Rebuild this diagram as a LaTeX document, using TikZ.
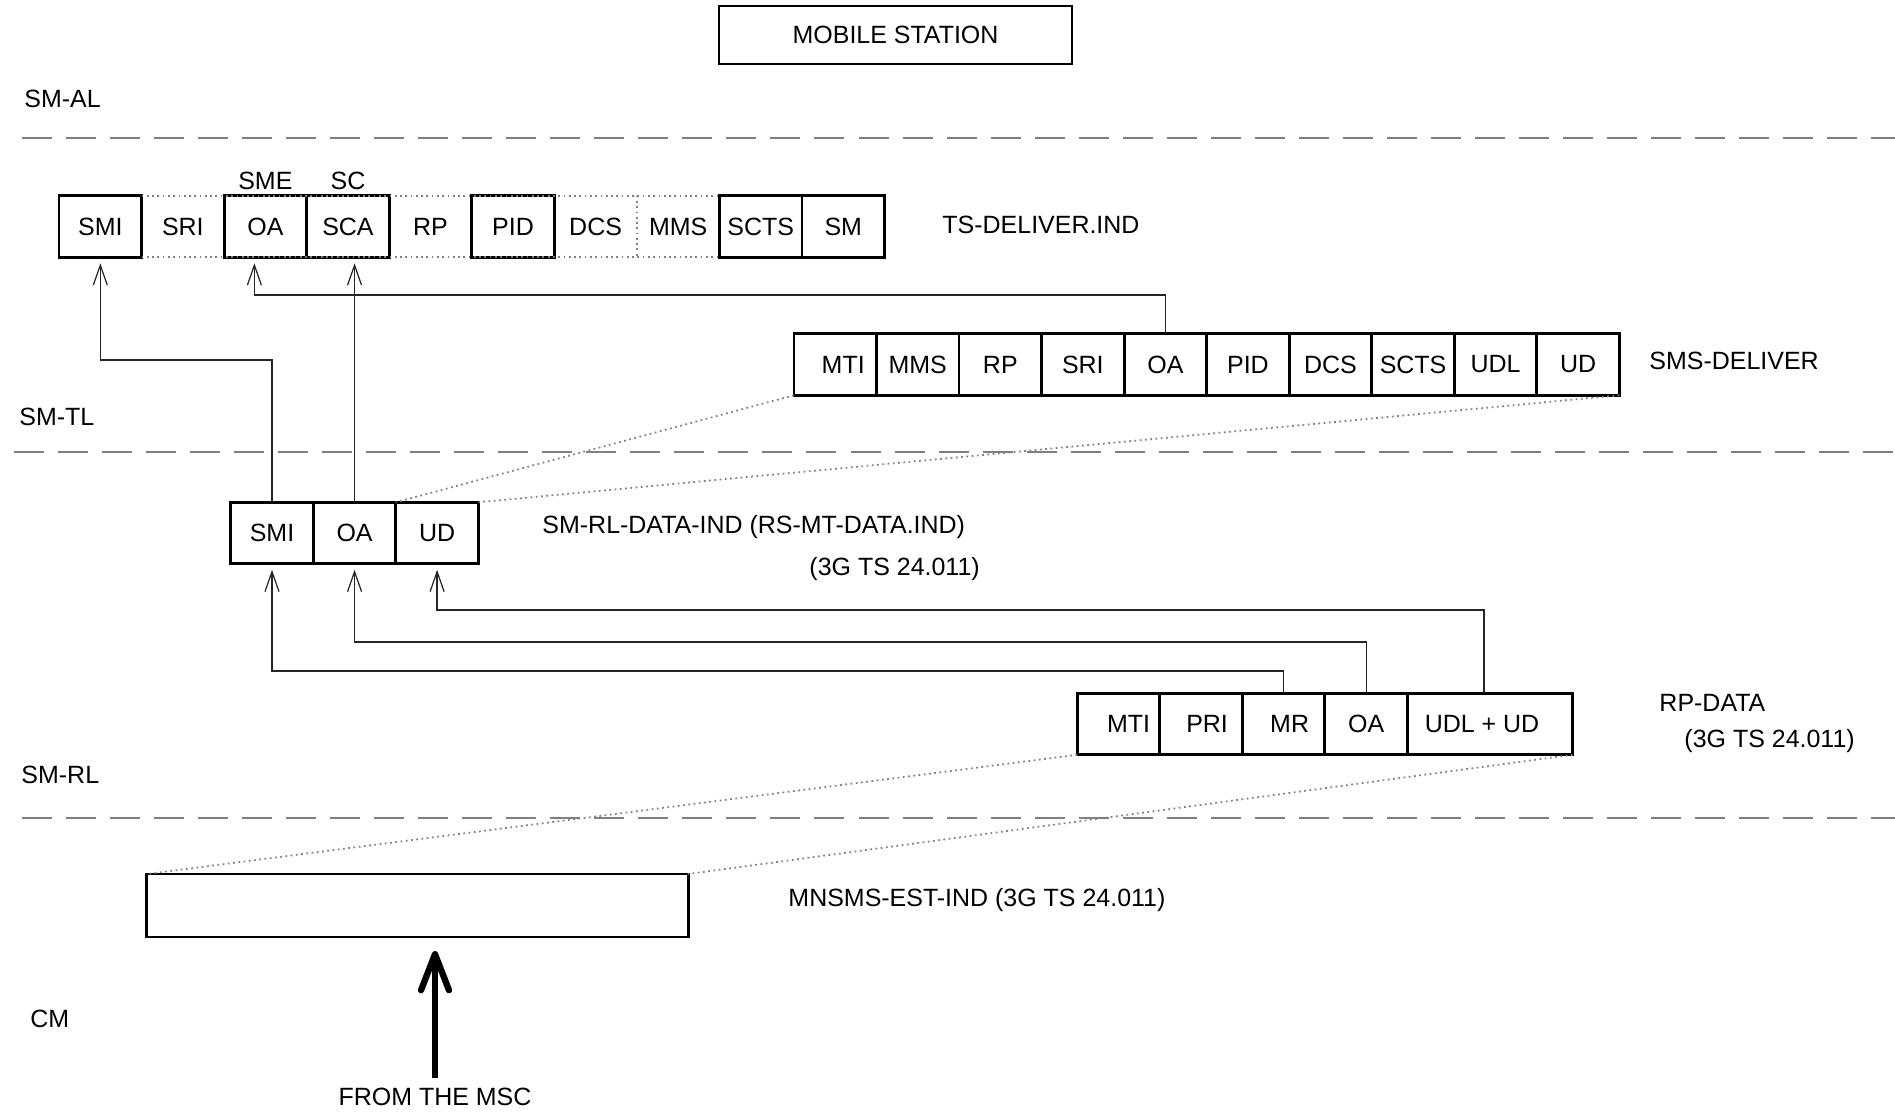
\documentclass[tikz,border=0pt]{standalone}
\usepackage{fontspec}
\setmainfont{Liberation Sans}
\usetikzlibrary{arrows.meta,positioning}

\begin{document}
\begin{tikzpicture}[x=0.01cm,y=-0.01cm,
  font=\fontsize{7.1}{8.5}\selectfont,
  >={Straight Barb[length=2mm,width=1.4mm]},
  cell/.style={draw,line width=0.8pt,minimum width=8.25mm,
    minimum height=6.15mm,inner sep=0.5pt,outer sep=0pt},
  gap/.style={cell,draw=none},
  layer/.style={gray,line width=0.6pt,dash pattern=on 3mm off 1.4mm},
  spread/.style={gray,densely dotted,line width=0.5pt},
  conn/.style={->,black!85,line width=0.35pt,shorten >=0.6mm},
  lbl/.style={inner sep=0.5pt}]
  \useasboundingbox (0,0) rectangle (1895,1112);

  \node[draw,line width=0.5pt,minimum width=35.3mm,minimum height=5.8mm]
    (ms) at (895.5,35) {MOBILE STATION};

  % layers
  \node[lbl,anchor=west] (al) at (22,99) {SM-AL};
  \node[lbl,anchor=west] (tl) at (17,417) {SM-TL};
  \node[lbl,anchor=west] (rl) at (19,775) {SM-RL};
  \node[lbl,anchor=west] (cm) at (28,1019) {CM};
  \coordinate (al0) at (22,138);  \coordinate (al1) at (1895,138);
  \coordinate (tl0) at (14,452);  \coordinate (tl1) at (1895,452);
  \coordinate (rl0) at (22,818);  \coordinate (rl1) at (1895,818);
  \draw[layer] (al0) -- (al1);
  \draw[layer] (tl0) -- (tl1);
  \draw[layer] (rl0) -- (rl1);

  % TS-DELIVER.IND
  \node[cell] (ts1) at (100.3,226.5) {SMI};
  \node[gap,right=0pt of ts1] (ts2) {SRI};
  \node[cell,right=0pt of ts2,text depth=-1.2pt] (ts3) {OA};
  \node[cell,right=0pt of ts3] (ts4) {SCA};
  \node[gap,right=0pt of ts4] (ts5) {RP};
  \node[cell,right=0pt of ts5] (ts6) {PID};
  \node[gap,right=0pt of ts6] (ts7) {DCS};
  \node[gap,right=0pt of ts7] (ts8) {MMS};
  \node[cell,right=0pt of ts8] (ts9) {SCTS};
  \node[cell,right=0pt of ts9] (ts10) {SM};
  \draw[spread] (ts1.north east) -- (ts9.north west)
    (ts1.south east) -- (ts9.south west)
    (ts7.north east) -- (ts7.south east);
  \node[lbl] (sme) at ([yshift=1.5mm]ts3.north) {SME};
  \node[lbl] (sc) at ([yshift=1.5mm]ts4.north) {SC};
  \node[lbl,anchor=west] (tsname) at (940,225) {TS-DELIVER.IND};

  % SMS-DELIVER
  \node[cell] (sms1) at (835.2,364.5) {\hspace*{1.6mm}MTI};
  \node[cell,right=0pt of sms1] (sms2) {MMS};
  \node[cell,right=0pt of sms2] (sms3) {RP};
  \node[cell,right=0pt of sms3] (sms4) {SRI};
  \node[cell,right=0pt of sms4] (sms5) {OA};
  \node[cell,right=0pt of sms5] (sms6) {PID};
  \node[cell,right=0pt of sms6] (sms7) {DCS};
  \node[cell,right=0pt of sms7] (sms8) {SCTS};
  \node[cell,right=0pt of sms8] (sms9) {UDL};
  \node[cell,right=0pt of sms9] (sms10) {UD};
  \node[lbl,anchor=west] (smsname) at (1647,361) {SMS-DELIVER};

  % SM-RL-DATA-IND
  \node[cell] (rl1) at (272,533) {SMI};
  \node[cell,right=0pt of rl1] (rl2) {OA};
  \node[cell,right=0pt of rl2] (rl3) {UD};
  \node[lbl,anchor=west] (rlname) at (540,527)
    {SM-RL-DATA-IND (RS-MT-DATA.IND)};
  \node[lbl,anchor=west] (rlref) at (807,569) {(3G TS 24.011)};

  % RP-DATA
  \node[cell] (rp1) at (1118.5,724) {\hspace*{2mm}MTI};
  \node[cell,right=0pt of rp1] (rp2) {\hspace*{1.2mm}PRI};
  \node[cell,right=0pt of rp2] (rp3) {\hspace*{1.2mm}MR};
  \node[cell,right=0pt of rp3] (rp4) {OA};
  \node[cell,right=0pt of rp4,minimum width=16.5mm] (rp5) {UDL + UD\hspace*{1.6mm}};
  \node[lbl,anchor=west] (rpname) at (1657,703) {RP-DATA};
  \node[lbl,anchor=west] (rpref) at (1682,741) {(3G TS 24.011)};

  % MNSMS-EST-IND
  \node[cell,minimum width=54.1mm,minimum height=6.3mm] (est) at (417.5,905.5) {};
  \node[lbl,anchor=west] (estname) at (786,900) {MNSMS-EST-IND (3G TS 24.011)};

  \node[lbl] (msc) at (435,1097) {FROM THE MSC};
  \draw[line width=1.8pt,-{Straight Barb[length=3.6mm,width=2.8mm,round]},
    shorten <=0.8mm,shorten >=1.4mm] (msc.north) -- (msc.north |- est.south);

  % field mapping
  \draw[conn] (rl1.north) -- (rl1.north |- 0,360) -| (ts1.south);
  \draw[conn] (rl2.north) -- (rl2.north |- ts4.south);
  \draw[conn] (sms5.north) -- (sms5.north |- 0,295) -| ([xshift=-1.1mm]ts3.south);
  \draw[conn] (rp3.north) -- (rp3.north |- 0,671) -| (rl1.south);
  \draw[conn] (rp4.north) -- (rp4.north |- 0,642) -| (rl2.south);
  \draw[conn] ([xshift=-0.6mm]rp5.north) -- ([xshift=-0.6mm]rp5.north |- 0,610) -| (rl3.south);

  \draw[spread] (sms1.south west) -- (rl3.north west);
  \draw[spread] (sms10.south east) -- (rl3.north east);
  \draw[spread] (rp1.south west) -- (est.north west);
  \draw[spread] (rp5.south east) -- (est.north east);
\end{tikzpicture}
\end{document}
